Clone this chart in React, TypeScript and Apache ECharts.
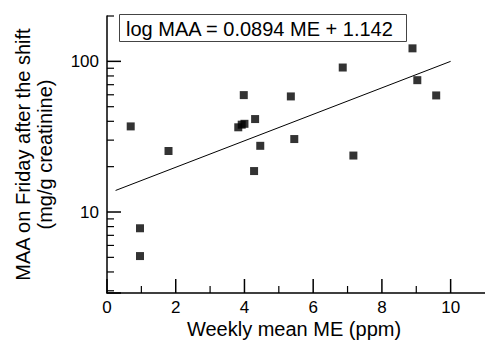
import React, { useEffect, useRef } from "react";
import * as echarts from "echarts";

// Weekly mean ME (ppm) vs MAA on Friday after the shift (mg/g creatinine)
const meValues = [0.69, 0.96, 0.96, 1.79, 3.82, 3.92, 4.0, 3.98, 4.31, 4.46, 4.28, 5.35, 5.45, 6.86, 7.17, 8.89, 9.03, 9.58];
const maaValues = [37, 7.8, 5.1, 25.4, 36.5, 38, 38.5, 59.7, 41.4, 27.5, 18.7, 58.5, 30.5, 91, 23.7, 122, 75, 59.4];

// regression line end points (as drawn)
const fitMe = [0.25, 10];
const fitMaa = [13.9, 100];

const X_MIN = 0;
const X_MAX = 11;
const Y_MIN = 2.9;
const Y_MAX = 200;

const xMajorTicks = [0, 2, 4, 6, 8, 10];
const xMinorTicks = [1, 3, 5, 7, 9];
const yMajorTicks = [2.9, 10, 100];
const yMinorTicks = [3, 4, 5, 6, 7, 8, 9, 20, 30, 40, 50, 60, 70, 80, 90, 200];
const xLabels = [0, 2, 4, 6, 8, 10];
const yLabels = [10, 100];

const equationText = "log MAA = 0.0894 ME + 1.142";
const xTitle = "Weekly mean ME (ppm)";
const yTitle = "MAA on Friday after the shift\n(mg/g creatinine)";

const FONT = "'Liberation Sans', Arial, Helvetica, sans-serif";

function tickSeries(name: string, data: number[][], dir: "x" | "y", len: number, width: number) {
  return {
    type: "custom",
    name,
    xAxisIndex: 0,
    yAxisIndex: 0,
    clip: false,
    silent: true,
    z: 5,
    data,
    renderItem: (_params: any, api: any) => {
      const p = api.coord([api.value(0), api.value(1)]);
      const shape =
        dir === "y"
          ? { x1: p[0], y1: p[1], x2: p[0] + len, y2: p[1] }
          : { x1: p[0], y1: p[1], x2: p[0], y2: p[1] - len };
      return { type: "line", shape, style: { stroke: "#000", lineWidth: width } };
    },
  };
}

export default function App() {
  const ref = useRef<HTMLDivElement>(null);
  useEffect(() => {
    if (!ref.current) return;
    const chart = echarts.init(ref.current, null, { renderer: "svg" });
    const axisLineStyle = { color: "#000", width: 1.5 };
    chart.setOption({
      animation: false,
      backgroundColor: "#fff",
      textStyle: { fontFamily: FONT },
      grid: { left: 107, right: -2, top: 16, bottom: 50, containLabel: false },
      xAxis: {
        type: "value",
        min: X_MIN,
        max: X_MAX,
        interval: 2,
        splitLine: { show: false },
        axisLine: { show: true, lineStyle: axisLineStyle },
        axisTick: { show: false },
        axisLabel: {
          show: true,
          customValues: xLabels,
          margin: 6,
          fontSize: 17,
          color: "#000",
          fontFamily: FONT,
        },
      },
      yAxis: {
        type: "log",
        logBase: 10,
        min: Y_MIN,
        max: Y_MAX,
        splitLine: { show: false },
        axisLine: { show: true, lineStyle: axisLineStyle },
        axisTick: { show: false },
        axisLabel: {
          show: true,
          customValues: yLabels,
          margin: 8,
          fontSize: 17,
          color: "#000",
          fontFamily: FONT,
          formatter: (v: number) => String(Math.round(v)),
        },
      },
      series: [
        {
          type: "scatter",
          symbol: "rect",
          symbolSize: 8,
          itemStyle: { color: "#000" },
          z: 3,
          data: meValues.map((x, i) => [x, maaValues[i]]),
        },
        {
          type: "line",
          showSymbol: false,
          symbol: "none",
          lineStyle: { color: "#000", width: 1 },
          z: 2,
          data: fitMe.map((x, i) => [x, fitMaa[i]]),
        },
        tickSeries("yMajor", yMajorTicks.map((v) => [X_MIN, v]), "y", 14, 1.5),
        tickSeries("yMinor", yMinorTicks.map((v) => [X_MIN, v]), "y", 7, 1.2),
        tickSeries("xMajor", xMajorTicks.map((v) => [v, Y_MIN]), "x", 14, 1.5),
        tickSeries("xMinor", xMinorTicks.map((v) => [v, Y_MIN]), "x", 7, 1.2),
      ],
      graphic: [
        {
          type: "rect",
          shape: { x: 119.5, y: 14.5, width: 287, height: 27 },
          style: { fill: "#fff", stroke: "#444", lineWidth: 1 },
          z: 10,
        },
        {
          type: "text",
          x: 126,
          y: 28.5,
          z: 11,
          style: { text: equationText, font: `20px ${FONT}`, fill: "#000", textAlign: "left", textVerticalAlign: "middle" },
        },
        {
          type: "text",
          x: 34,
          y: 154.5,
          rotation: Math.PI / 2,
          style: { text: yTitle, font: `20px ${FONT}`, fill: "#000", textAlign: "center", textVerticalAlign: "middle", lineHeight: 22 },
        },
        {
          type: "text",
          x: 294,
          y: 329,
          style: { text: xTitle, font: `20px ${FONT}`, fill: "#000", textAlign: "center", textVerticalAlign: "middle" },
        },
      ],
    });
    return () => chart.dispose();
  }, []);
  return <div ref={ref} style={{ width: 485, height: 343, position: "absolute", left: 0, top: 0 }} />;
}
